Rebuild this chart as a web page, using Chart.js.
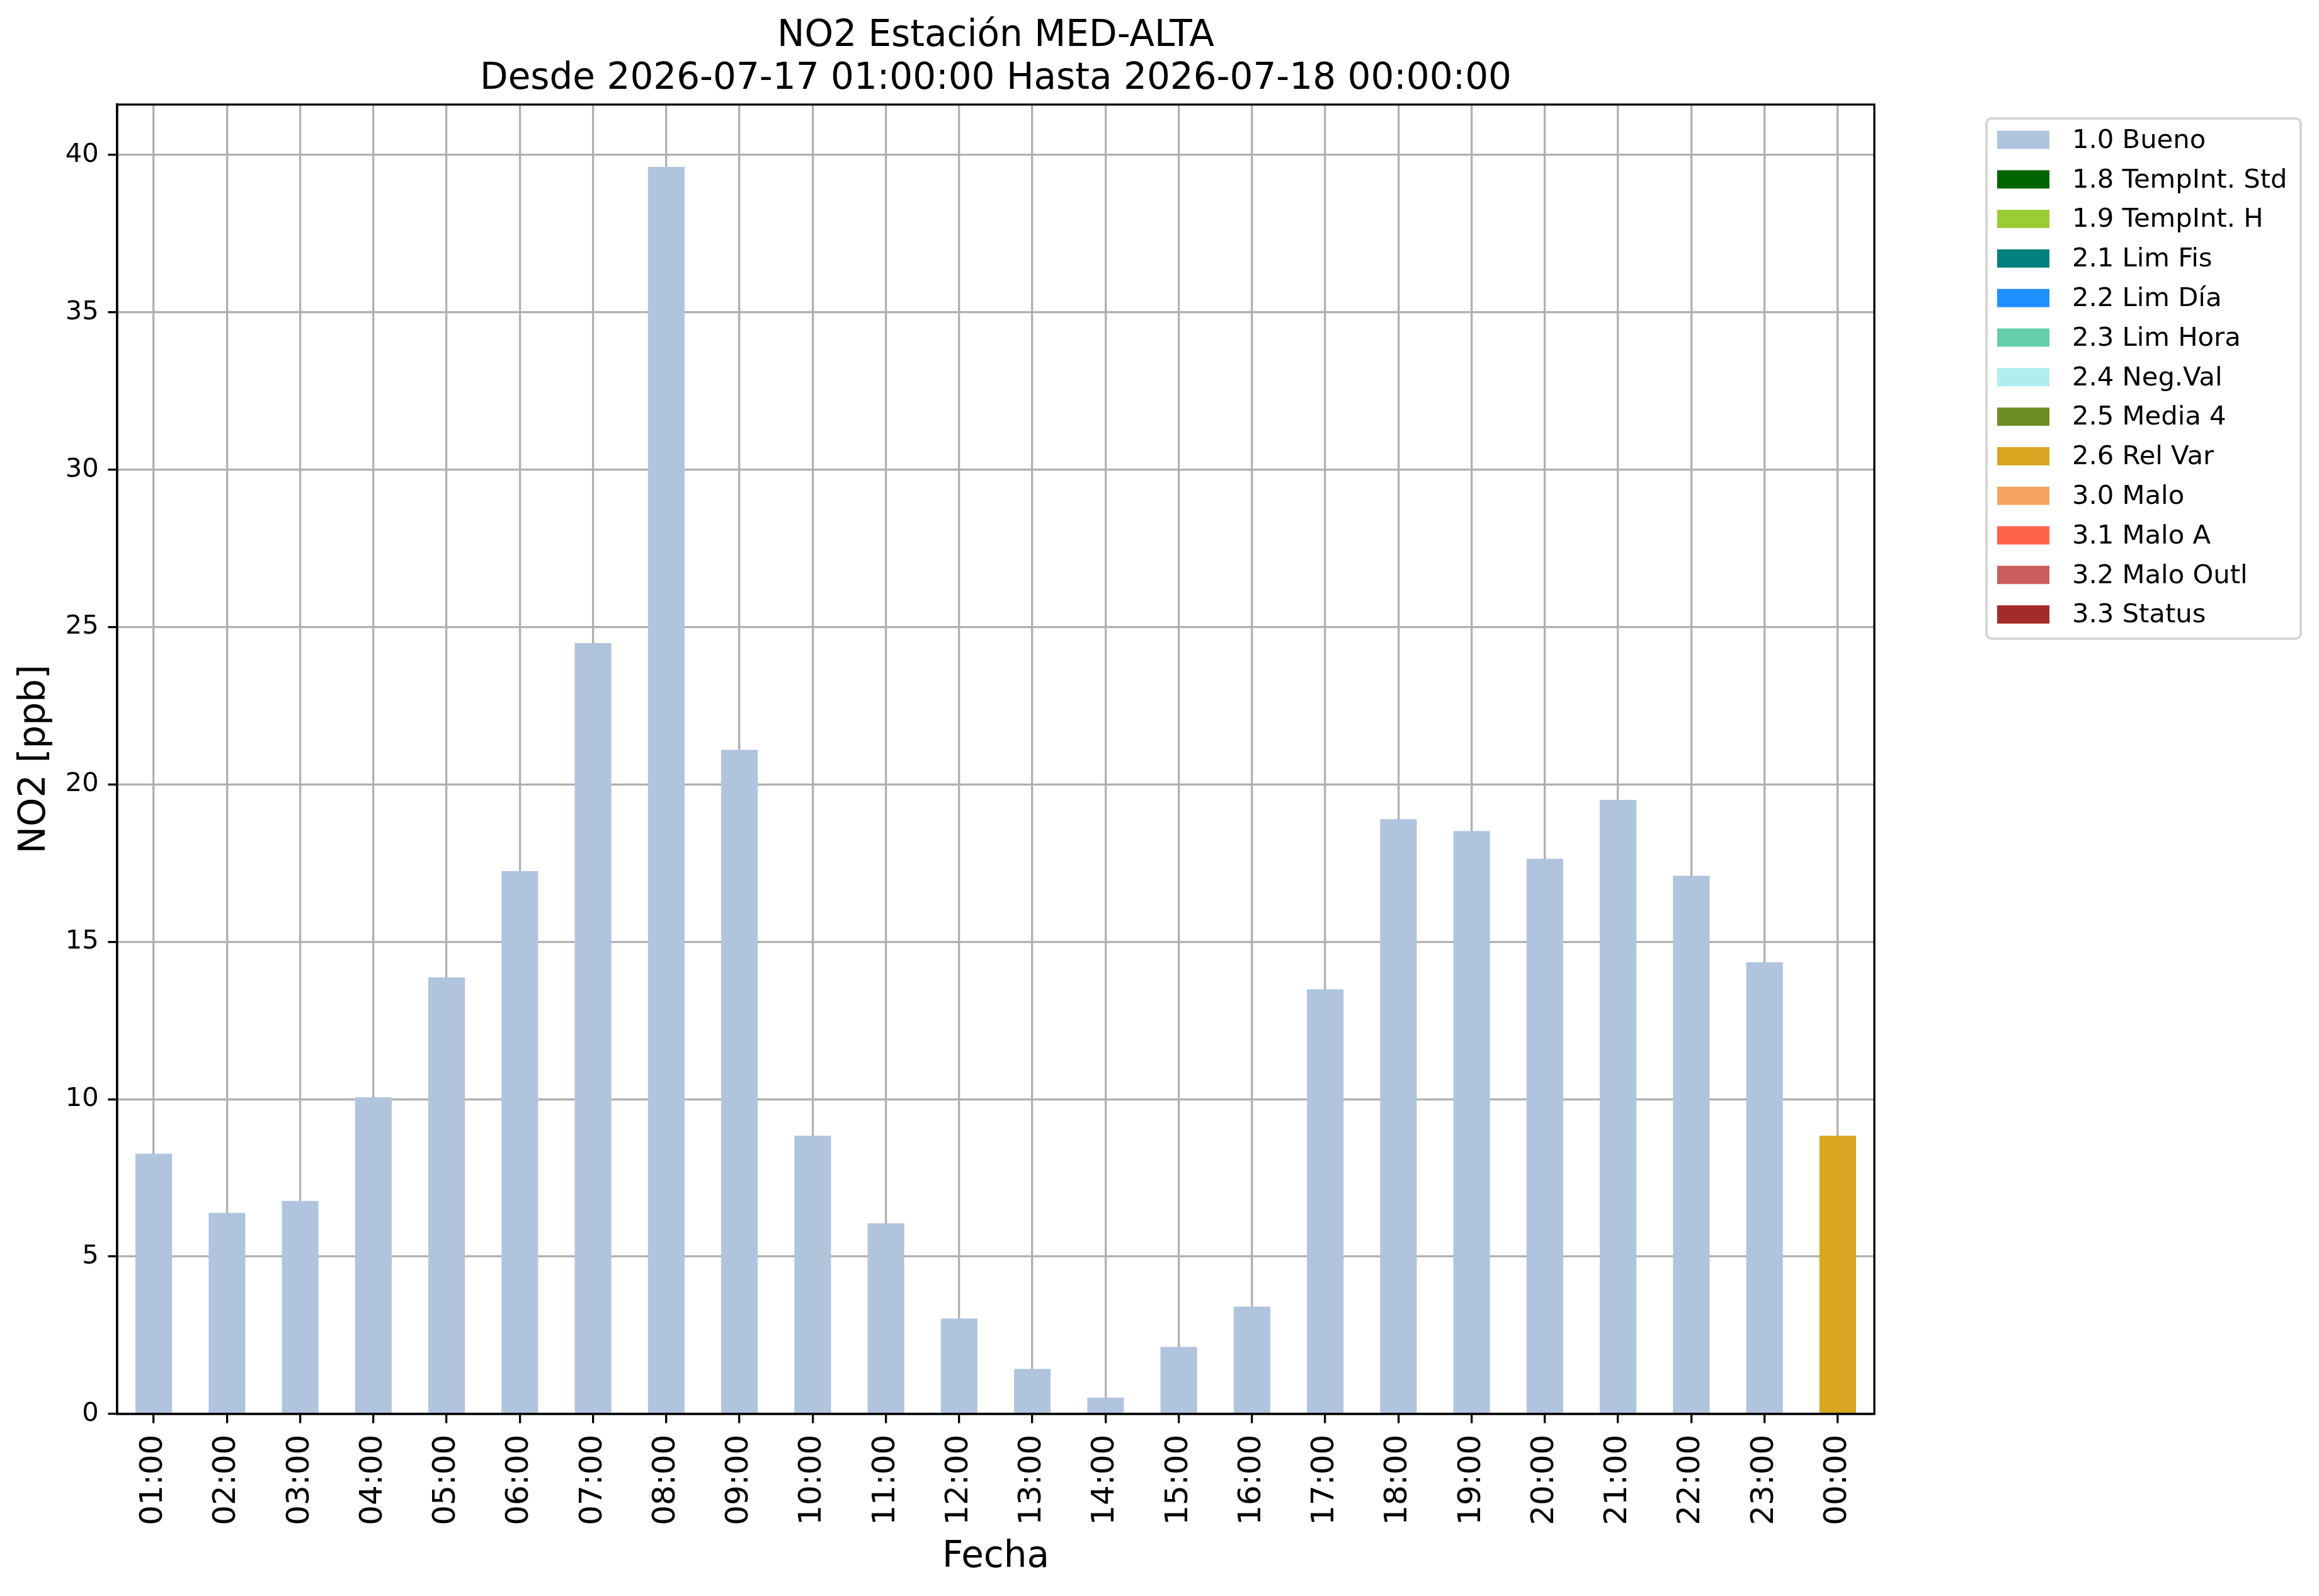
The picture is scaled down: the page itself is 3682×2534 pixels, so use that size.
<!DOCTYPE html>
<html>
<head>
<meta charset="utf-8">
<script src="https://cdn.jsdelivr.net/npm/chart.js@4.4.1/dist/chart.umd.min.js"></script>
<style>
html,body{margin:0;padding:0;background:#fff}
canvas{display:block}
</style>
</head>
<body>
<canvas id="grafico" width="3682" height="2534"></canvas>
<script>
const horas = ['01:00','02:00','03:00','04:00','05:00','06:00','07:00','08:00','09:00','10:00','11:00','12:00',
  '13:00','14:00','15:00','16:00','17:00','18:00','19:00','20:00','21:00','22:00','23:00','00:00'];
const no2 = [8.27, 6.39, 6.77, 10.06, 13.87, 17.25, 24.49, 39.62, 21.1, 8.84, 6.06, 3.03,
  1.43, 0.52, 2.13, 3.41, 13.49, 18.9, 18.52, 17.64, 19.51, 17.1, 14.35, 8.84];
// codigo de validacion de cada hora
const banderas = ['1.0','1.0','1.0','1.0','1.0','1.0','1.0','1.0','1.0','1.0','1.0','1.0',
  '1.0','1.0','1.0','1.0','1.0','1.0','1.0','1.0','1.0','1.0','1.0','2.6'];
const codigos = ['1.0','1.8','1.9','2.1','2.2','2.3','2.4','2.5','2.6','3.0','3.1','3.2','3.3'];
const nombres = ['Bueno','TempInt. Std','TempInt. H','Lim Fis','Lim Día','Lim Hora','Neg.Val','Media 4',
  'Rel Var','Malo','Malo A','Malo Outl','Status'];
const colores = ['#b0c4de','#006400','#9acd32','#008080','#1e90ff','#66cdaa','#afeeee','#6b8e23',
  '#daa520','#f4a460','#ff6347','#cd5c5c','#a52a2a'];

Chart.defaults.font.family = "'DejaVu Sans', sans-serif";
Chart.defaults.color = '#000';

const datasets = codigos.map((c, i) => ({
  label: c + ' ' + nombres[i],
  data: no2.map((v, k) => banderas[k] === c ? v : null),
  backgroundColor: colores[i],
  barPercentage: 0.5,
  categoryPercentage: 1.0
}));

// marco completo del area de dibujo (matplotlib tiene 4 bordes)
const marco = {
  id: 'marco',
  afterDraw(chart) {
    const {ctx, chartArea: a} = chart;
    ctx.save();
    ctx.strokeStyle = '#000';
    ctx.lineWidth = 3.3;
    ctx.strokeRect(a.left, a.top, a.right - a.left, a.bottom - a.top);
    ctx.restore();
  }
};

// leyenda fuera del grafico, a la derecha
const leyenda = {
  id: 'leyenda',
  afterDraw(chart) {
    const ctx = chart.ctx;
    const x0 = 3154, y0 = 188, w = 499, h = 826;
    ctx.save();
    ctx.beginPath();
    ctx.roundRect(x0, y0, w, h, 8);
    ctx.fillStyle = '#fff';
    ctx.fill();
    ctx.strokeStyle = '#d6d6d6';
    ctx.lineWidth = 4;
    ctx.stroke();
    ctx.font = "41.7px 'DejaVu Sans'";
    ctx.textBaseline = 'middle';
    ctx.textAlign = 'left';
    chart.data.datasets.forEach((ds, i) => {
      const yc = 222 + i * 62.8;
      ctx.fillStyle = ds.backgroundColor;
      ctx.fillRect(3171, yc - 14.5, 83, 29);
      ctx.fillStyle = '#000';
      ctx.fillText(ds.label, 3290, yc + 2);
    });
    ctx.restore();
  }
};

const rejilla = {
  color: '#b0b0b0',
  lineWidth: 3.3,
  tickColor: '#000',
  tickWidth: 3.3,
  tickLength: 14.6
};

new Chart(document.getElementById('grafico'), {
  type: 'bar',
  data: { labels: horas, datasets: datasets },
  options: {
    responsive: false,
    devicePixelRatio: 1,
    animation: false,
    layout: { padding: { left: 0, right: 706, top: 0, bottom: 0 } },
    plugins: {
      legend: { display: false },
      tooltip: { enabled: false },
      title: {
        display: true,
        fullSize: false,
        text: ['NO2 Estación MED-ALTA', 'Desde 2026-07-17 01:00:00 Hasta 2026-07-18 00:00:00'],
        font: { size: 58, weight: 'normal', lineHeight: 68 / 58 },
        color: '#000',
        padding: { top: 24, bottom: 6 }
      }
    },
    scales: {
      x: {
        stacked: true,
        z: 1,
        offset: true,
        grid: Object.assign({ offset: false }, rejilla),
        border: { color: '#000', width: 3.3 },
        ticks: { minRotation: 90, maxRotation: 90, autoSkip: false, font: { size: 50 }, padding: 18, color: '#000' },
        title: { display: true, text: 'Fecha', font: { size: 58 }, padding: { top: 0, bottom: 26 }, color: '#000' },
        afterFit(s) { s.height = 289; }
      },
      y: {
        stacked: true,
        z: 1,
        min: 0,
        max: 41.6,
        grid: rejilla,
        border: { color: '#000', width: 3.3 },
        ticks: { stepSize: 5, includeBounds: false, font: { size: 41.7 }, padding: 14.6, color: '#000' },
        title: { display: true, text: 'NO2 [ppb]', font: { size: 58 }, padding: { top: 21, bottom: 0 }, color: '#000' },
        afterFit(s) { s.width = 186; }
      }
    }
  },
  plugins: [marco, leyenda]
});
</script>
</body>
</html>
